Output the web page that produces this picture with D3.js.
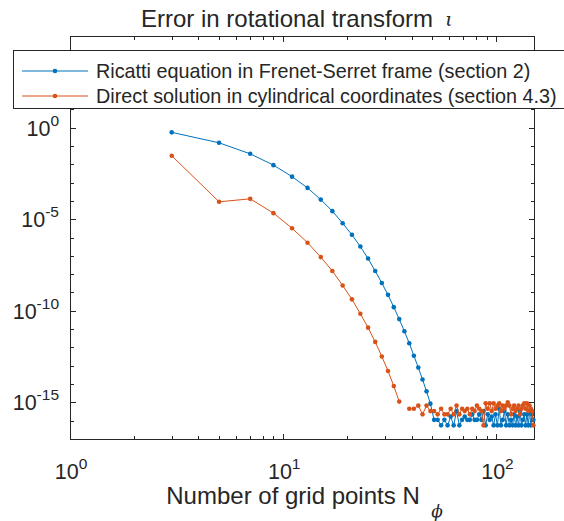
<!DOCTYPE html>
<html><head><meta charset="utf-8">
<script src="https://cdn.jsdelivr.net/npm/d3@7"></script>
<style>
html,body{margin:0;padding:0;background:#fff;}
text{font-family:"Liberation Sans",Arial,Helvetica,sans-serif;fill:#262626;}
</style></head>
<body><svg id="c" width="564" height="521"></svg>
<script>
// Grid point counts (odd N)
const gridN = [3,5,7,9,11,13,15,17,19,21,23,25,27,29,31,33,35,37,39,41,43,45,47,49,51,53,55,57,59,61,63,65,67,69,71,73,75,77,79,81,83,85,87,89,91,93,95,97,99,101,103,105,107,109,111,113,115,117,119,121,123,125,127,129,131,133,135,137,139,141,143,145,147,149];

// Ricatti equation in Frenet-Serret frame (section 2)
const ricattiError = [
  5.5e-1, 1.48e-1, 3.7e-2, 8.9e-3, 2.1e-3, 5.1e-4, 1.17e-4, 2.75e-5, 6.0e-6, 1.41e-6,
  3.2e-7, 7.1e-8, 1.48e-8, 3.3e-9, 7.4e-10, 1.58e-10, 3.5e-11, 7.6e-12, 1.7e-12, 3.5e-13,
  7.9e-14, 1.78e-14, 4.0e-15, 8.5e-16, 1.11e-16,
  1.11e-16, 5.55e-17, 1.11e-16, 5.55e-17, 1.67e-16, 5.55e-17, 3.33e-16, 5.55e-17, 1.11e-16, 1.67e-16,
  1.11e-16, 1.11e-16, 2.22e-16, 1.11e-16, 1.11e-16, 2.22e-16, 1.11e-16, 3.33e-16, 5.55e-17, 2.22e-16,
  1.11e-16, 1.67e-16, 5.55e-17, 2.22e-16, 5.55e-17, 4.44e-16, 5.55e-17, 1.11e-16, 3.33e-16, 5.55e-17,
  2.22e-16, 5.55e-17, 1.11e-16, 5.55e-17, 2.22e-16, 5.55e-17, 1.67e-16, 5.55e-17, 3.33e-16, 5.55e-17,
  1.11e-16, 2.22e-16, 5.55e-17, 2.22e-16, 5.55e-17, 3.33e-16, 5.55e-17, 2.22e-16, 1.11e-16
];

// Direct solution in cylindrical coordinates (section 4.3); null = zero error (not drawn on log axis)
const directError = [
  2.9e-2, 8.9e-5, 1.29e-4, 2.14e-5, 3.2e-6, 5.2e-7, 8.5e-8, 1.48e-8, 2.4e-9, 4.2e-10,
  6.9e-11, 1.2e-11, 2.0e-12, 3.2e-13, 5.2e-14, 7.8e-15, 1.1e-15, null,
  4.44e-16, 4.44e-16, 6.66e-16, 2.22e-16, 6.66e-16, 3.33e-16, 3.33e-16, 2.22e-16, 4.44e-16, 2.22e-16,
  2.22e-16, 4.44e-16, 2.22e-16, 6.66e-16, 2.22e-16, 4.44e-16, 3.33e-16, 4.44e-16, 2.22e-16, 4.44e-16,
  3.33e-16, 6.66e-16, 4.44e-16, 3.33e-16, 5.55e-17, 8.88e-16, 4.44e-16, 8.88e-16, 3.33e-16, 8.88e-16,
  4.44e-16, 6.66e-16, 8.88e-16, 3.33e-16, 6.66e-16, 4.44e-16, 6.66e-16, 1.0e-15, 6.66e-16, 2.22e-16,
  4.44e-16, 6.66e-16, 3.33e-16, 4.44e-16, 6.66e-16, 2.22e-16, 4.44e-16, 6.66e-16, 8.88e-16, 4.44e-16,
  8.88e-16, 3.33e-16, 6.66e-16, 4.44e-16, 3.33e-16, 5.55e-17
];

const seriesNames = ["Ricatti equation in Frenet-Serret frame (section 2)", "Direct solution in cylindrical coordinates (section 4.3)"];
const seriesColors = ["#0072BD", "#D95319"];
const xTickValues = [1, 10, 100];
const xTickExps = ["0", "1", "2"];
const yTickValues = [1e0, 1e-5, 1e-10, 1e-15];
const yTickExps = ["0", "-5", "-10", "-15"];
const xDomain = [1, 150];
const yDomain = [1e-17, 1e5];

const svg = d3.select("#c");
const L = 70, R = 534, T = 36, B = 439;
const x = d3.scaleLog().domain(xDomain).range([L, R]);
const y = d3.scaleLog().domain(yDomain).range([B, T]);
const axisColor = "#262626";
const tickFont = 21.5, supFont = 15.5, labelFont = 24, legendFont = 19.8;

// frame
svg.append("rect").attr("x", L + 0.5).attr("y", T + 0.5).attr("width", R - L).attr("height", B - T)
  .attr("fill", "none").attr("stroke", axisColor).attr("stroke-width", 1);

// ticks (inward, all four sides)
const xMinor = [];
for (let d = 1; d <= 100; d *= 10) for (let k = 2; k <= 9; k++) if (d * k <= xDomain[1]) xMinor.push(d * k);
const tickG = svg.append("g").attr("stroke", axisColor).attr("stroke-width", 1);
xMinor.forEach(v => {
  const px = Math.round(x(v)) + 0.5;
  tickG.append("line").attr("x1", px).attr("x2", px).attr("y1", B).attr("y2", B - 3);
  tickG.append("line").attr("x1", px).attr("x2", px).attr("y1", T + 1).attr("y2", T + 4);
});
xTickValues.forEach(v => {
  const px = Math.round(x(v)) + 0.5;
  tickG.append("line").attr("x1", px).attr("x2", px).attr("y1", B).attr("y2", B - 5);
  tickG.append("line").attr("x1", px).attr("x2", px).attr("y1", T + 1).attr("y2", T + 6);
});
for (let e = -17; e <= 5; e++) {
  const py = Math.round(y(Math.pow(10, e))) + 0.5;
  const len = (e % 5 === 0) ? 5 : 3;
  tickG.append("line").attr("x1", L + 1).attr("x2", L + 1 + len).attr("y1", py).attr("y2", py);
  tickG.append("line").attr("x1", R).attr("x2", R - len).attr("y1", py).attr("y2", py);
}

// x tick labels
xTickValues.forEach((v, i) => {
  const t = svg.append("text").attr("x", x(v) + 1).attr("y", 479).attr("text-anchor", "middle").style("font-size", tickFont + "px");
  t.append("tspan").text("10");
  t.append("tspan").attr("dy", -10).style("font-size", supFont + "px").text(xTickExps[i]);
});
// y tick labels
yTickValues.forEach((v, i) => {
  const t = svg.append("text").attr("x", 59).attr("y", y(v) + 8).attr("text-anchor", "end").style("font-size", tickFont + "px");
  t.append("tspan").text("10");
  t.append("tspan").attr("dy", -10).style("font-size", supFont + "px").text(yTickExps[i]);
});

// data lines
const seriesData = [ricattiError, directError];
const line = d3.line().defined(d => d[1] != null).x(d => x(d[0])).y(d => y(d[1]));
seriesData.forEach((vals, si) => {
  const pts = gridN.map((n, i) => [n, vals[i]]);
  const g = svg.append("g");
  g.append("path").attr("d", line(pts)).attr("fill", "none").attr("stroke", seriesColors[si]).attr("stroke-width", 1);
  g.selectAll("circle").data(pts.filter(d => d[1] != null)).join("circle")
    .attr("cx", d => x(d[0])).attr("cy", d => y(d[1])).attr("r", 2.3).attr("fill", seriesColors[si]);
});

// title
svg.append("text").attr("x", 287).attr("y", 27).attr("text-anchor", "middle").style("font-size", labelFont + "px")
  .text("Error in rotational transform");
svg.append("text").attr("x", 449).attr("y", 26).attr("text-anchor", "middle")
  .style("font-family", "'DejaVu Serif',serif").style("font-style", "italic").style("font-size", "19px").text("ι");

// x label
svg.append("text").attr("x", 293).attr("y", 504).attr("text-anchor", "middle").style("font-size", labelFont + "px")
  .text("Number of grid points N");
svg.append("text").attr("x", 437).attr("y", 517).attr("text-anchor", "middle")
  .style("font-family", "'DejaVu Serif',serif").style("font-style", "italic").style("font-size", "17px").text("ϕ");

// legend
const lg = svg.append("g");
lg.append("rect").attr("x", 13.5).attr("y", 50.5).attr("width", 600).attr("height", 58)
  .attr("fill", "#fff").attr("stroke", axisColor).attr("stroke-width", 1);
seriesNames.forEach((name, i) => {
  const cy = 71 + i * 25;
  lg.append("line").attr("x1", 22).attr("x2", 88).attr("y1", cy).attr("y2", cy).attr("stroke", seriesColors[i]).attr("stroke-width", 1);
  lg.append("circle").attr("cx", 55).attr("cy", cy).attr("r", 2.3).attr("fill", seriesColors[i]);
  lg.append("text").attr("x", 96).attr("y", cy + 7).style("font-size", legendFont + "px").text(name);
});
</script>
</body></html>
